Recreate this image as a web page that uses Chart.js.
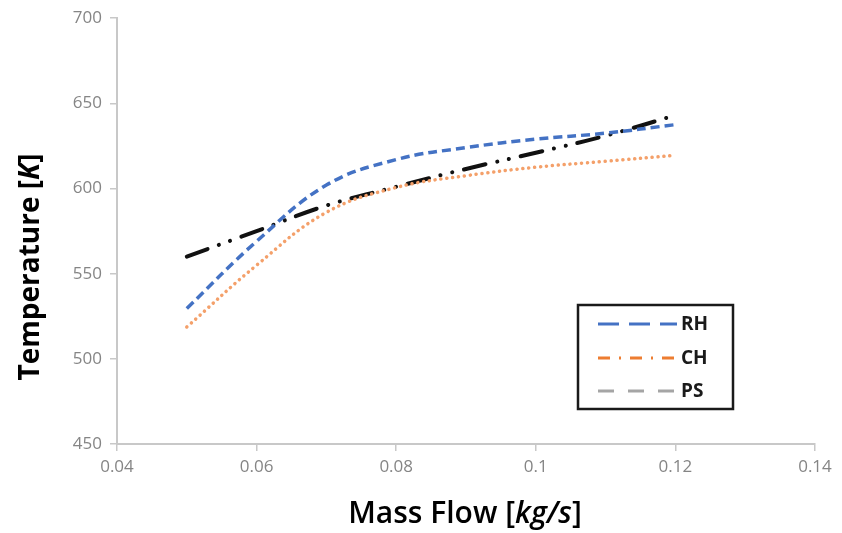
<!DOCTYPE html>
<html>
<head>
<meta charset="utf-8">
<script src="https://cdn.jsdelivr.net/npm/chart.js@4.4.1/dist/chart.umd.min.js"></script>
<style>
  html, body { margin: 0; padding: 0; background: #ffffff; }
  #wrap { width: 842px; height: 533px; position: relative; }
</style>
</head>
<body>
<div id="wrap"><canvas id="flowChart"></canvas></div>
<script>
// values
const massFlow = [0.05, 0.06, 0.07, 0.08, 0.09, 0.10, 0.11, 0.12];
const tempRH = [529.6, 569, 602, 617, 624, 629, 632.5, 637.5];
const tempCH = [518.7, 555, 586, 600.6, 607.5, 612.5, 616, 619.5];
const tempPS = [560, 575, 590, 601, 611.5, 621, 631, 643];
const seriesNames = ["RH", "CH", "PS"];
const xTicks = [0.04, 0.06, 0.08, 0.1, 0.12, 0.14];
const yTicks = [450, 500, 550, 600, 650, 700];

function toPoints(ys) {
    return massFlow.map((x, i) => ({ x: x, y: ys[i] }));
}

// legend samples in the original do not match the line styles, keep them as drawn
const legendStyle = [
    { color: "#4472c4", dash: [21, 10] },
    { color: "#ed7d31", dash: [12, 9, 2, 9] },
    { color: "#a5a5a5", dash: [16, 14] },
];

const axisTitles = {
    id: "axisTitles",
    afterDraw(chart) {
        const ctx = chart.ctx;
        ctx.save();
        ctx.fillStyle = "#000000";
        ctx.textBaseline = "middle";

        // x title with italic unit
        const xParts = [
            ["Mass Flow [", "600 30px 'Open Sans'"],
            ["kg/s", "italic 600 30px 'Open Sans'"],
            ["]", "600 30px 'Open Sans'"],
        ];
        let w = 0;
        xParts.forEach((p) => { ctx.font = p[1]; w += ctx.measureText(p[0]).width; });
        let x = 465 - w / 2;
        xParts.forEach((p) => {
            ctx.font = p[1];
            ctx.textAlign = "left";
            ctx.fillText(p[0], x, 514);
            x += ctx.measureText(p[0]).width;
        });

        // y title, rotated
        const yParts = [
            ["Temperature [", "bold 28px 'Open Sans'"],
            ["K", "italic bold 28px 'Open Sans'"],
            ["]", "bold 28px 'Open Sans'"],
        ];
        w = 0;
        yParts.forEach((p) => { ctx.font = p[1]; w += ctx.measureText(p[0]).width; });
        ctx.translate(31, 267);
        ctx.rotate(-Math.PI / 2);
        x = -w / 2;
        yParts.forEach((p) => {
            ctx.font = p[1];
            ctx.textAlign = "left";
            ctx.fillText(p[0], x, 0);
            x += ctx.measureText(p[0]).width;
        });
        ctx.restore();
    },
};

const boxLegend = {
    id: "boxLegend",
    afterDraw(chart) {
        const ctx = chart.ctx;
        ctx.save();
        ctx.fillStyle = "#ffffff";
        ctx.fillRect(578, 305, 155, 104);
        ctx.strokeStyle = "#1a1a1a";
        ctx.lineWidth = 2.5;
        ctx.strokeRect(578, 305, 155, 104);
        const rows = [324, 358, 391];
        seriesNames.forEach((name, i) => {
            ctx.beginPath();
            ctx.setLineDash(legendStyle[i].dash);
            ctx.strokeStyle = legendStyle[i].color;
            ctx.lineWidth = 3;
            ctx.moveTo(598, rows[i]);
            ctx.lineTo(677, rows[i]);
            ctx.stroke();
            ctx.setLineDash([]);
            ctx.fillStyle = "#1a1a1a";
            ctx.font = "bold 19px 'Open Sans'";
            ctx.textAlign = "left";
            ctx.textBaseline = "middle";
            ctx.fillText(name, 681, rows[i] + 1);
        });
        ctx.restore();
    },
};

document.addEventListener("DOMContentLoaded", () => {
    const ctx = document.getElementById("flowChart").getContext("2d");
    new Chart(ctx, {
        type: "line",
        data: {
            datasets: [
                {
                    label: seriesNames[0],
                    data: toPoints(tempRH),
                    borderColor: "#4472c4",
                    borderWidth: 3.5,
                    borderDash: [9, 5],
                    borderCapStyle: "butt",
                    tension: 0.4,
                    pointRadius: 0,
                    fill: false,
                },
                {
                    label: seriesNames[1],
                    data: toPoints(tempCH),
                    borderColor: "#f4a06a",
                    borderWidth: 3.5,
                    borderDash: [0.1, 5.8],
                    borderCapStyle: "round",
                    tension: 0.4,
                    pointRadius: 0,
                    fill: false,
                },
                {
                    label: seriesNames[2],
                    data: toPoints(tempPS),
                    borderColor: "#111111",
                    borderWidth: 4,
                    borderDash: [22, 12, 0.1, 12, 0.1, 12],
                    borderCapStyle: "round",
                    tension: 0.4,
                    pointRadius: 0,
                    fill: false,
                },
            ],
        },
        options: {
            responsive: true,
            maintainAspectRatio: false,
            animation: false,
            layout: {
                padding: { top: 16, right: 27, left: 0, bottom: 0 },
            },
            scales: {
                x: {
                    type: "linear",
                    min: 0.04,
                    max: 0.14,
                    afterBuildTicks: (scale) => {
                        scale.ticks = xTicks.map((v) => ({ value: v }));
                    },
                    afterFit: (scale) => { scale.height = 89; },
                    grid: {
                        display: true,
                        drawOnChartArea: false,
                        drawTicks: true,
                        tickLength: 7,
                        color: "#c8c8c8",
                        lineWidth: 1.5,
                    },
                    border: { color: "#c8c8c8", width: 2 },
                    ticks: {
                        color: "#858585",
                        font: { family: "'Open Sans'", size: 17 },
                        padding: 6,
                        maxRotation: 0,
                        callback: (v) => String(Math.round(v * 100) / 100),
                    },
                },
                y: {
                    min: 450,
                    max: 700,
                    afterBuildTicks: (scale) => {
                        scale.ticks = yTicks.map((v) => ({ value: v }));
                    },
                    afterFit: (scale) => { scale.width = 117; },
                    grid: {
                        display: true,
                        drawOnChartArea: false,
                        drawTicks: true,
                        tickLength: 7,
                        color: "#c8c8c8",
                        lineWidth: 1.5,
                    },
                    border: { color: "#c8c8c8", width: 2 },
                    ticks: {
                        color: "#858585",
                        font: { family: "'Open Sans'", size: 17 },
                        padding: 8,
                    },
                },
            },
            plugins: {
                legend: { display: false },
                tooltip: { enabled: false },
            },
        },
        plugins: [axisTitles, boxLegend],
    });
});
</script>
</body>
</html>
